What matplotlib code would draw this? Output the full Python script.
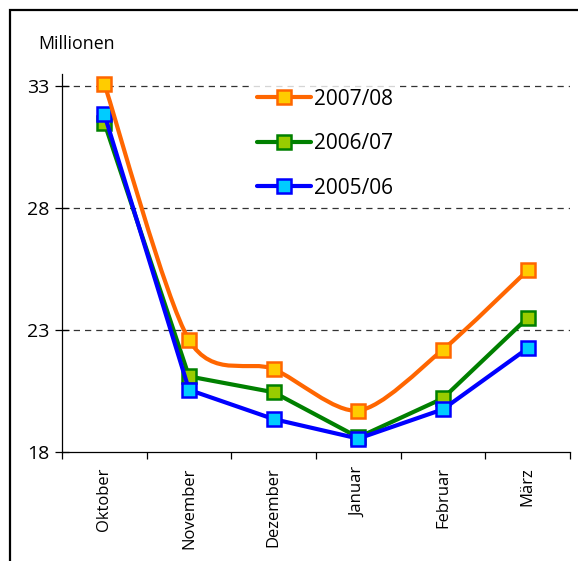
import numpy as np
import matplotlib.pyplot as plt
from matplotlib.path import Path
from matplotlib.patches import PathPatch, Rectangle
from matplotlib.lines import Line2D

plt.rcParams['font.family'] = ['Open Sans', 'DejaVu Sans']

months = ['Oktober', 'November', 'Dezember', 'Januar', 'Februar', 'März']
s_0708 = [33.1, 22.6, 21.4, 19.7, 22.2, 25.45]
s_0607 = [31.5, 21.1, 20.45, 18.6, 20.2, 23.5]
s_0506 = [31.85, 20.55, 19.35, 18.55, 19.75, 22.25]
yticks = [18, 23, 28, 33]


def smooth_path(xs, ys, t=0.14):
    """Catmull-Rom artige Bezier-Kurve durch die Punkte (wie Excel 'geglaettete Linie')"""
    pts = np.column_stack([xs, ys]).astype(float)
    verts = [pts[0]]
    codes = [Path.MOVETO]
    n = len(pts)
    for i in range(n - 1):
        p0 = pts[max(i - 1, 0)]
        p1 = pts[i]
        p2 = pts[i + 1]
        p3 = pts[min(i + 2, n - 1)]
        c1 = p1 + (p2 - p0) * t
        c2 = p2 - (p3 - p1) * t
        verts += [c1, c2, p2]
        codes += [Path.CURVE4] * 3
    return Path(verts, codes)


fig = plt.figure(figsize=(5.78, 5.61), dpi=100)
ax = fig.add_axes([0.1073, 0.1943, 0.8787, 0.6737])

x = np.arange(len(months))

# Rahmen (im Original nur oben/links sichtbar)
fig.patches.append(Rectangle((10 / 578, -0.1), 1.2, 1 - 10 / 561 + 0.1,
                             transform=fig.transFigure, fill=False,
                             edgecolor='black', linewidth=1.6))

for yv in yticks[1:]:
    ax.axhline(yv, color='#333333', linestyle=(0, (5, 4)), linewidth=0.9, zorder=1)

ax.plot(x, s_0607, color='#008000', linewidth=3, marker='s', markersize=10,
        markerfacecolor='#99CC00', markeredgecolor='#008000', markeredgewidth=1.8, zorder=3)
ax.plot(x, s_0506, color='#0000FF', linewidth=3, marker='s', markersize=10,
        markerfacecolor='#00CCFF', markeredgecolor='#0000FF', markeredgewidth=1.8, zorder=4)
ax.add_patch(PathPatch(smooth_path(x, s_0708), facecolor='none', edgecolor='#FF6600',
                       linewidth=3, capstyle='round', zorder=5))
ax.plot(x, s_0708, linestyle='none', marker='s', markersize=10,
        markerfacecolor='#FFCC00', markeredgecolor='#FF6600', markeredgewidth=1.8, zorder=6)

handles = [
    Line2D([], [], color='#FF6600', linewidth=3, marker='s', markersize=10,
           markerfacecolor='#FFCC00', markeredgecolor='#FF6600', markeredgewidth=1.8,
           solid_capstyle='round'),
    Line2D([], [], color='#008000', linewidth=3, marker='s', markersize=10,
           markerfacecolor='#99CC00', markeredgecolor='#008000', markeredgewidth=1.8,
           solid_capstyle='round'),
    Line2D([], [], color='#0000FF', linewidth=3, marker='s', markersize=10,
           markerfacecolor='#00CCFF', markeredgecolor='#0000FF', markeredgewidth=1.8,
           solid_capstyle='round'),
]
leg = ax.legend(handles, ['2007/08', '2006/07', '2005/06'], loc='upper left',
                bbox_to_anchor=(0.355, 1.0), frameon=True, fontsize=15,
                handlelength=2.6, handletextpad=0.15, labelspacing=1.13,
                borderpad=0.2, fancybox=False)
leg.get_frame().set_edgecolor('none')
leg.get_frame().set_facecolor('white')
leg.set_zorder(7)

ax.set_xlim(-0.5, len(months) - 0.5)
ax.set_ylim(18, 33.5)
ax.set_yticks(yticks)
ax.set_yticklabels([str(v) for v in yticks], fontsize=14)
ax.tick_params(axis='y', direction='inout', length=10, width=0.9, pad=4)

ax.set_xticks(np.arange(len(months) + 1) - 0.5, minor=False)
ax.set_xticklabels([])
ax.set_xticks(x, minor=True)
ax.set_xticklabels(months, minor=True, rotation=90, fontsize=12)
ax.tick_params(axis='x', which='major', direction='out', length=5, width=0.9)
ax.tick_params(axis='x', which='minor', length=0, pad=11)

for side in ['top', 'right']:
    ax.spines[side].set_visible(False)
ax.spines['left'].set_linewidth(0.9)
ax.spines['bottom'].set_linewidth(0.9)

fig.text(38 / 578, 1 - 44 / 561, 'Millionen', fontsize=12.8, va='center', ha='left')

plt.savefig('out.png', dpi=100)
